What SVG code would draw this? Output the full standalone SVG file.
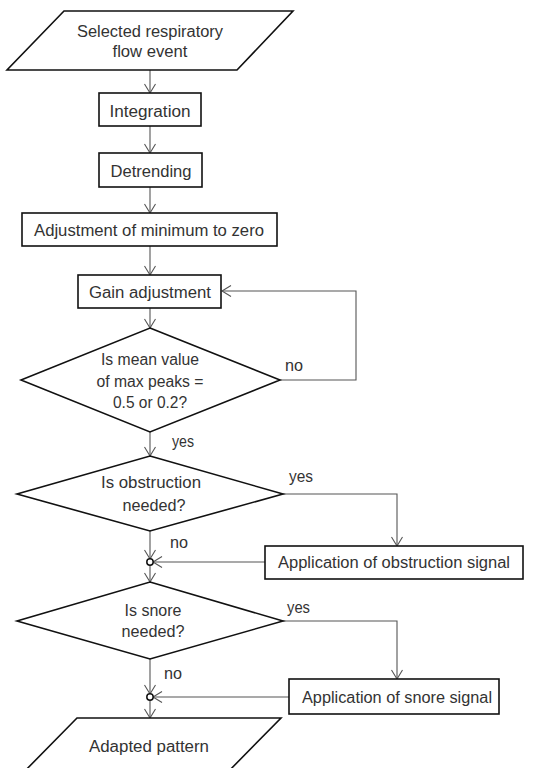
<svg xmlns="http://www.w3.org/2000/svg" width="534" height="768" viewBox="0 0 534 768">
<defs>
<marker id="arr" viewBox="-11 -7 13 14" refX="0" refY="0" markerWidth="13" markerHeight="14" markerUnits="userSpaceOnUse" orient="auto">
<path d="M-9,-5.5 L0,0 L-9,5.5" fill="none" stroke="#555" stroke-width="1.1"/>
</marker>
<style>
.sh{fill:#fff;stroke:#111;stroke-width:1.6}
.t{font-family:"Liberation Sans",Arial,sans-serif;font-size:16px;fill:#333;text-anchor:middle}
.l{font-family:"Liberation Sans",Arial,sans-serif;font-size:16px;fill:#333}
.c2{fill:none;stroke:#555;stroke-width:1.1;marker-end:url(#arr)}
.dot{fill:#fff;stroke:#111;stroke-width:1.5}
</style>
</defs>
<rect width="534" height="768" fill="#fff"/>
<g id="connectors">
<line class="c2" x1="150" y1="70" x2="150" y2="93"/>
<line class="c2" x1="150" y1="126" x2="150" y2="153"/>
<line class="c2" x1="150" y1="187" x2="150" y2="213"/>
<line class="c2" x1="150" y1="246" x2="150" y2="275"/>
<line class="c2" x1="150" y1="308" x2="150" y2="328"/>
<polyline class="c2" points="280,380 356,380 356,291 222,291"/>
<line class="c2" x1="150" y1="432" x2="150" y2="456"/>
<polyline class="c2" points="283,494 397,494 397,546"/>
<line class="c2" x1="150" y1="531" x2="150" y2="559"/>
<line class="c2" x1="265" y1="562" x2="153" y2="562"/>
<line class="c2" x1="150" y1="565" x2="150" y2="582"/>
<polyline class="c2" points="283,621 397,621 397,679"/>
<line class="c2" x1="150" y1="659" x2="150" y2="694"/>
<line class="c2" x1="289" y1="697" x2="153" y2="697"/>
<line class="c2" x1="150" y1="700" x2="150" y2="718"/>
<text class="l" x="285" y="371" textLength="18" lengthAdjust="spacingAndGlyphs">no</text>
<text class="l" x="172" y="447" textLength="22" lengthAdjust="spacingAndGlyphs">yes</text>
<text class="l" x="289" y="482" textLength="24" lengthAdjust="spacingAndGlyphs">yes</text>
<text class="l" x="170" y="548" textLength="18" lengthAdjust="spacingAndGlyphs">no</text>
<text class="l" x="287" y="613" textLength="23" lengthAdjust="spacingAndGlyphs">yes</text>
<text class="l" x="164" y="679" textLength="18" lengthAdjust="spacingAndGlyphs">no</text>
</g>
<g id="n-start">
<polygon class="sh" points="64,11 293,11 237,70 7,70"/>
<text class="t" x="150" y="37" textLength="146" lengthAdjust="spacingAndGlyphs">Selected respiratory</text>
<text class="t" x="150" y="57" textLength="75" lengthAdjust="spacingAndGlyphs">flow event</text>
</g>
<g id="n-integration">
<rect class="sh" x="99" y="93" width="102" height="33"/>
<text class="t" x="150" y="117" textLength="81" lengthAdjust="spacingAndGlyphs">Integration</text>
</g>
<g id="n-detrending">
<rect class="sh" x="99" y="153" width="103" height="34"/>
<text class="t" x="151" y="177" textLength="81" lengthAdjust="spacingAndGlyphs">Detrending</text>
</g>
<g id="n-adjust">
<rect class="sh" x="22" y="213" width="255" height="33"/>
<text class="t" x="149" y="236" textLength="230" lengthAdjust="spacingAndGlyphs">Adjustment of minimum to zero</text>
</g>
<g id="n-gain">
<rect class="sh" x="78" y="275" width="143" height="33"/>
<text class="t" x="150" y="298" textLength="122" lengthAdjust="spacingAndGlyphs">Gain adjustment</text>
</g>
<g id="n-mean">
<polygon class="sh" points="150,328 280,380 150,432 21,380"/>
<text class="t" x="150" y="365" textLength="98" lengthAdjust="spacingAndGlyphs">Is mean value</text>
<text class="t" x="150" y="387" textLength="107" lengthAdjust="spacingAndGlyphs">of max peaks =</text>
<text class="t" x="150" y="408" textLength="74" lengthAdjust="spacingAndGlyphs">0.5 or 0.2?</text>
</g>
<g id="n-obst-q">
<polygon class="sh" points="150,456 283,494 150,531 17,494"/>
<text class="t" x="151" y="488" textLength="100" lengthAdjust="spacingAndGlyphs">Is obstruction</text>
<text class="t" x="154" y="511" textLength="63" lengthAdjust="spacingAndGlyphs">needed?</text>
</g>
<g id="n-obst">
<rect class="sh" x="265" y="546" width="258" height="33"/>
<text class="t" x="394" y="568" textLength="232" lengthAdjust="spacingAndGlyphs">Application of obstruction signal</text>
</g>
<g id="j1"><circle class="dot" cx="150" cy="562" r="3.2"/></g>
<g id="n-snore-q">
<polygon class="sh" points="150,582 283,621 150,659 17,621"/>
<text class="t" x="153" y="616" textLength="57" lengthAdjust="spacingAndGlyphs">Is snore</text>
<text class="t" x="153" y="637" textLength="63" lengthAdjust="spacingAndGlyphs">needed?</text>
</g>
<g id="n-snore">
<rect class="sh" x="289" y="679" width="210" height="35"/>
<text class="t" x="397" y="703" textLength="190" lengthAdjust="spacingAndGlyphs">Application of snore signal</text>
</g>
<g id="j2"><circle class="dot" cx="150" cy="697" r="3.2"/></g>
<g id="n-end">
<polygon class="sh" points="77,718 281,718 222,778 18,778"/>
<text class="t" x="149" y="752" textLength="120" lengthAdjust="spacingAndGlyphs">Adapted pattern</text>
</g>
</svg>
